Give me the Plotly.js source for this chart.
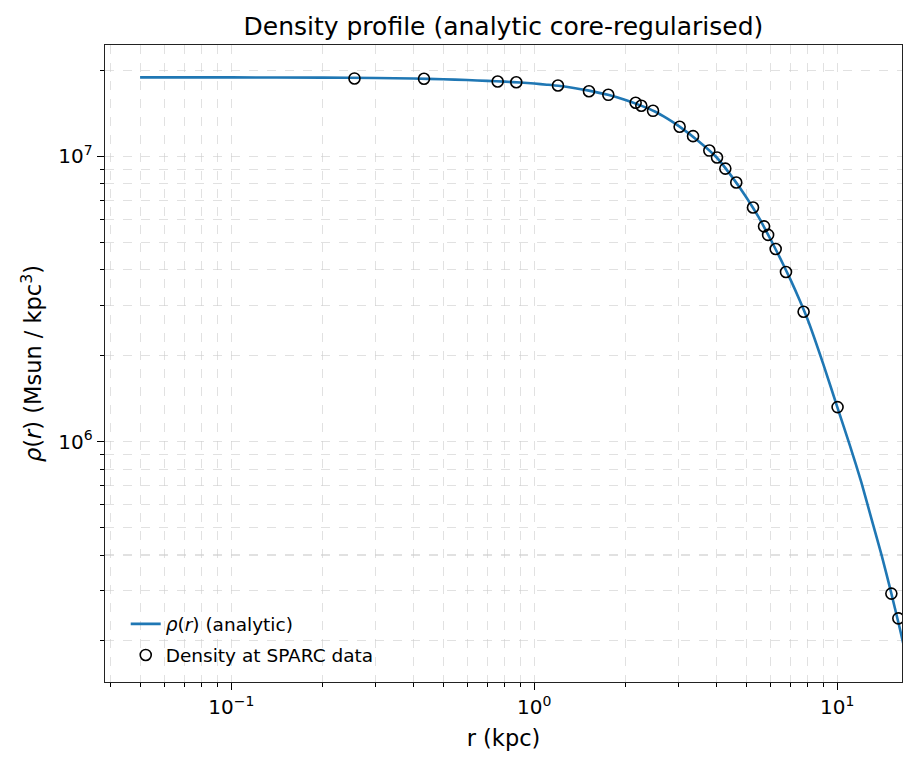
<!DOCTYPE html>
<html>
<head>
<meta charset="utf-8">
<script src="https://cdn.plot.ly/plotly-3.0.1.min.js"></script>
<style>html,body{margin:0;padding:0;background:#fff;}#chart{width:917px;height:767px;}</style>
</head>
<body>
<div id="chart"></div>
<script>
// Analytic curve
const curveR = [0.05, 0.1, 0.2, 0.3, 0.4, 0.5, 0.6, 0.7, 0.8, 0.9, 1.0, 1.1, 1.2, 1.35, 1.5, 1.75, 2.0, 2.25, 2.5, 2.75, 3.0, 3.5, 4.0, 4.5, 5.0, 5.5, 6.0, 6.5, 7.0, 7.5, 8.0, 9.0, 10.0, 11.0, 12.0, 13.0, 14.0, 15.0, 16.0, 17.0];
const curveRho = [1.89e7, 1.89e7, 1.886e7, 1.880e7, 1.872e7, 1.862e7, 1.850e7, 1.838e7, 1.826e7, 1.813e7, 1.798e7, 1.782e7, 1.766e7, 1.736e7, 1.702e7, 1.642e7, 1.575e7, 1.505e7, 1.435e7, 1.355e7, 1.275e7, 1.125e7, 9.9e6, 8.45e6, 7.2e6, 6.12e6, 5.15e6, 4.36e6, 3.7e6, 3.14e6, 2.66e6, 1.86e6, 1.32e6, 9.7e5, 7.2e5, 5.3e5, 4.0e5, 3.0e5, 2.26e5, 1.71e5];

// SPARC data points
const dataR = [0.255, 0.4325, 0.757, 0.872, 1.197, 1.515, 1.755, 2.16, 2.255, 2.465, 3.017, 3.341, 3.781, 4.009, 4.27, 4.64, 5.27, 5.73, 5.91, 6.26, 6.77, 7.74, 10.02, 15.08, 15.9];
const dataRho = [1.874e7, 1.87e7, 1.829e7, 1.818e7, 1.77e7, 1.69e7, 1.642e7, 1.54e7, 1.503e7, 1.443e7, 1.269e7, 1.176e7, 1.047e7, 9.9e6, 9.05e6, 8.09e6, 6.61e6, 5.68e6, 5.30e6, 4.73e6, 3.93e6, 2.85e6, 1.32e6, 2.93e5, 2.40e5];

const xTickVals = [0.1, 1, 10];
const xTickText = ['10<sup>\u22121</sup>', '10<sup>0</sup>', '10<sup>1</sup>'];
const yTickVals = [1e6, 1e7];
const yTickText = ['10<sup>6</sup>', '10<sup>7</sup>'];

function minorVals(lo, hi) {
  const out = [];
  for (let e = lo; e <= hi; e++) {
    for (let m = 2; m <= 9; m++) out.push(m * Math.pow(10, e));
  }
  return out;
}

const gridCol = 'rgba(205,205,205,0.6)';

const traces = [
  {
    x: curveR, y: curveRho, type: 'scatter', mode: 'lines',
    name: '<i>\u03c1</i>(<i>r</i>) (analytic)', legendgroup: 'a',
    line: {color: '#1f77b4', width: 2.6, shape: 'spline', smoothing: 0.6},
    cliponaxis: true
  },
  {
    x: dataR, y: dataRho, type: 'scatter', mode: 'markers',
    name: 'Density at SPARC data', legendgroup: 'b',
    marker: {symbol: 'circle-open', size: 11, color: '#000', line: {color: '#000', width: 1.6}},
    cliponaxis: true
  }
];

const layout = {
  width: 917, height: 767,
  margin: {l: 105, r: 15, t: 45, b: 85},
  paper_bgcolor: '#fff', plot_bgcolor: '#fff',
  font: {family: 'DejaVu Sans, sans-serif', color: '#000', size: 20},
  title: {text: 'Density profile (analytic core-regularised)', font: {size: 25, color: '#000'}, x: 0.549, xanchor: 'center', y: 0.966, yanchor: 'middle'},
  showlegend: true,
  legend: {x: 0.026, y: 0.012, xanchor: 'left', yanchor: 'bottom', bgcolor: 'rgba(255,255,255,0)', borderwidth: 0, font: {size: 18.5}, tracegroupgap: 4},
  xaxis: {
    type: 'log', range: [-1.4168, 1.2135],
    title: {text: 'r (kpc)', font: {size: 22.5}, standoff: 12},
    tickmode: 'array', tickvals: xTickVals, ticktext: xTickText,
    ticks: 'outside', ticklen: 7, tickwidth: 1.3, tickcolor: '#000',
    showline: true, linecolor: '#222', linewidth: 1.4, mirror: true,
    showgrid: true, gridcolor: gridCol, griddash: 'dash', gridwidth: 1.1,
    zeroline: false,
    minor: {tickmode: 'array', tickvals: minorVals(-2, 1), ticks: 'outside', ticklen: 4, tickwidth: 1, tickcolor: '#000', showgrid: true, gridcolor: gridCol, griddash: 'dash', gridwidth: 1.1},
    tickfont: {size: 20}
  },
  yaxis: {
    type: 'log', range: [5.157, 7.390],
    title: {text: '<i>\u03c1</i>(<i>r</i>) (Msun / kpc<sup>3</sup>)', font: {size: 22.5}, standoff: 10},
    tickmode: 'array', tickvals: yTickVals, ticktext: yTickText,
    ticks: 'outside', ticklen: 7, tickwidth: 1.3, tickcolor: '#000',
    showline: true, linecolor: '#222', linewidth: 1.4, mirror: true,
    showgrid: true, gridcolor: gridCol, griddash: 'dash', gridwidth: 1.1,
    zeroline: false,
    minor: {tickmode: 'array', tickvals: minorVals(5, 7), ticks: 'outside', ticklen: 4, tickwidth: 1, tickcolor: '#000', showgrid: true, gridcolor: gridCol, griddash: 'dash', gridwidth: 1.1},
    tickfont: {size: 20}
  }
};

Plotly.newPlot('chart', traces, layout, {displayModeBar: false, staticPlot: true});
</script>
</body>
</html>
